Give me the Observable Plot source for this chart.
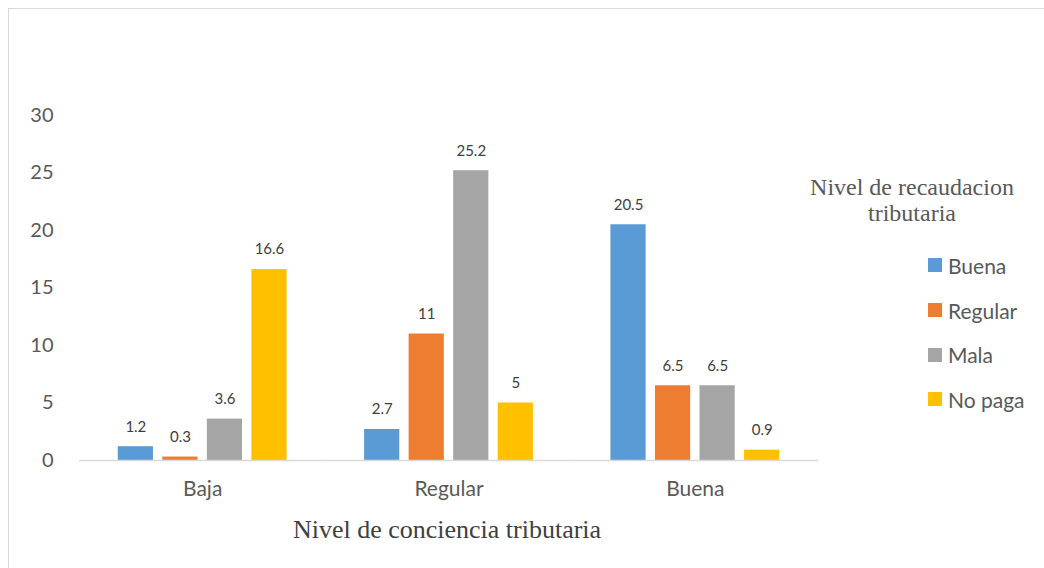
<!DOCTYPE html>
<html>
<head>
<meta charset="utf-8">
<script src="https://cdn.jsdelivr.net/npm/d3@7"></script>
<script src="https://cdn.jsdelivr.net/npm/@observablehq/plot@0.6"></script>
<style>
  html, body { margin: 0; padding: 0; background: #fff; }
  #wrap { position: relative; width: 1044px; height: 568px; overflow: hidden; font-family: Lato, "Open Sans", sans-serif; }
  #frame { position: absolute; left: 8px; top: 8px; width: 1100px; height: 700px; border-left: 1px solid #d9d9d9; border-top: 1px solid #d9d9d9; }
  #chart { position: absolute; left: 0; top: 0; }
  #xtitle { position: absolute; left: 197px; width: 500px; top: 513px; line-height: 34px; text-align: center; font-family: "Liberation Serif", "DejaVu Serif", serif; font-size: 26px; color: #404040; }
  #legtitle { position: absolute; left: 762px; width: 300px; top: 174px; text-align: center; font-family: "Liberation Serif", "DejaVu Serif", serif; font-size: 24px; line-height: 26px; color: #595959; }
  #legend { position: absolute; left: 928px; top: 243px; }
  .item { display: flex; align-items: center; height: 44.7px; font-size: 21px; color: #595959; }
  .sw { width: 14px; height: 14px; margin-right: 6px; }
</style>
</head>
<body>
<div id="wrap">
  <div id="frame"></div>
  <div id="chart"></div>
  <div id="xtitle">Nivel de conciencia tributaria</div>
  <div id="legtitle">Nivel de recaudacion<br>tributaria</div>
  <div id="legend"></div>
</div>
<script>
const categories = ["Baja", "Regular", "Buena"];
const series = ["Buena", "Regular", "Mala", "No paga"];
const buena = [1.2, 2.7, 20.5];
const regular = [0.3, 11, 6.5];
const mala = [3.6, 25.2, 6.5];
const noPaga = [16.6, 5, 0.9];
const colors = ["#5b9bd5", "#ed7d31", "#a5a5a5", "#ffc000"];
const yTicks = [0, 5, 10, 15, 20, 25, 30];

const valuesBySeries = [buena, regular, mala, noPaga];
const data = [];
categories.forEach((c, i) => {
  series.forEach((s, j) => {
    data.push({cat: c, serie: s, value: valuesBySeries[j][i]});
  });
});

const chart = Plot.plot({
  width: 1044,
  height: 568,
  marginLeft: 79,
  marginRight: 226,
  marginTop: 115,
  marginBottom: 108,
  style: {fontFamily: "Lato, 'Open Sans', sans-serif", background: "transparent"},
  fx: {domain: categories, padding: 0, round: false, label: null, axis: null},
  x: {domain: series, paddingInner: 0.21, paddingOuter: 0.87, round: false, axis: null},
  y: {domain: [0, 30], axis: null},
  color: {domain: series, range: colors},
  marks: [
    Plot.axisY({ticks: yTicks, tickSize: 0, tickPadding: 26, fontSize: 20, color: "#595959", label: null, facetAnchor: "left"}),
    Plot.axisFx({anchor: "bottom", tickSize: 0, tickPadding: 21, fontSize: 21, color: "#595959", label: null}),
    Plot.barY(data, {fx: "cat", x: "serie", y: "value", fill: "serie"}),
    Plot.ruleY([0], {stroke: "#d9d9d9", strokeWidth: 1.5}),
    Plot.text(data, {fx: "cat", x: "serie", y: "value", text: d => String(d.value), dy: -20, fontSize: 15, fill: "#404040"})
  ]
});
document.getElementById("chart").appendChild(chart);

const legend = document.getElementById("legend");
series.forEach((s, i) => {
  const item = document.createElement("div");
  item.className = "item";
  const sw = document.createElement("div");
  sw.className = "sw";
  sw.style.background = colors[i];
  const lab = document.createElement("span");
  lab.textContent = s;
  item.appendChild(sw);
  item.appendChild(lab);
  legend.appendChild(item);
});
</script>
</body>
</html>
